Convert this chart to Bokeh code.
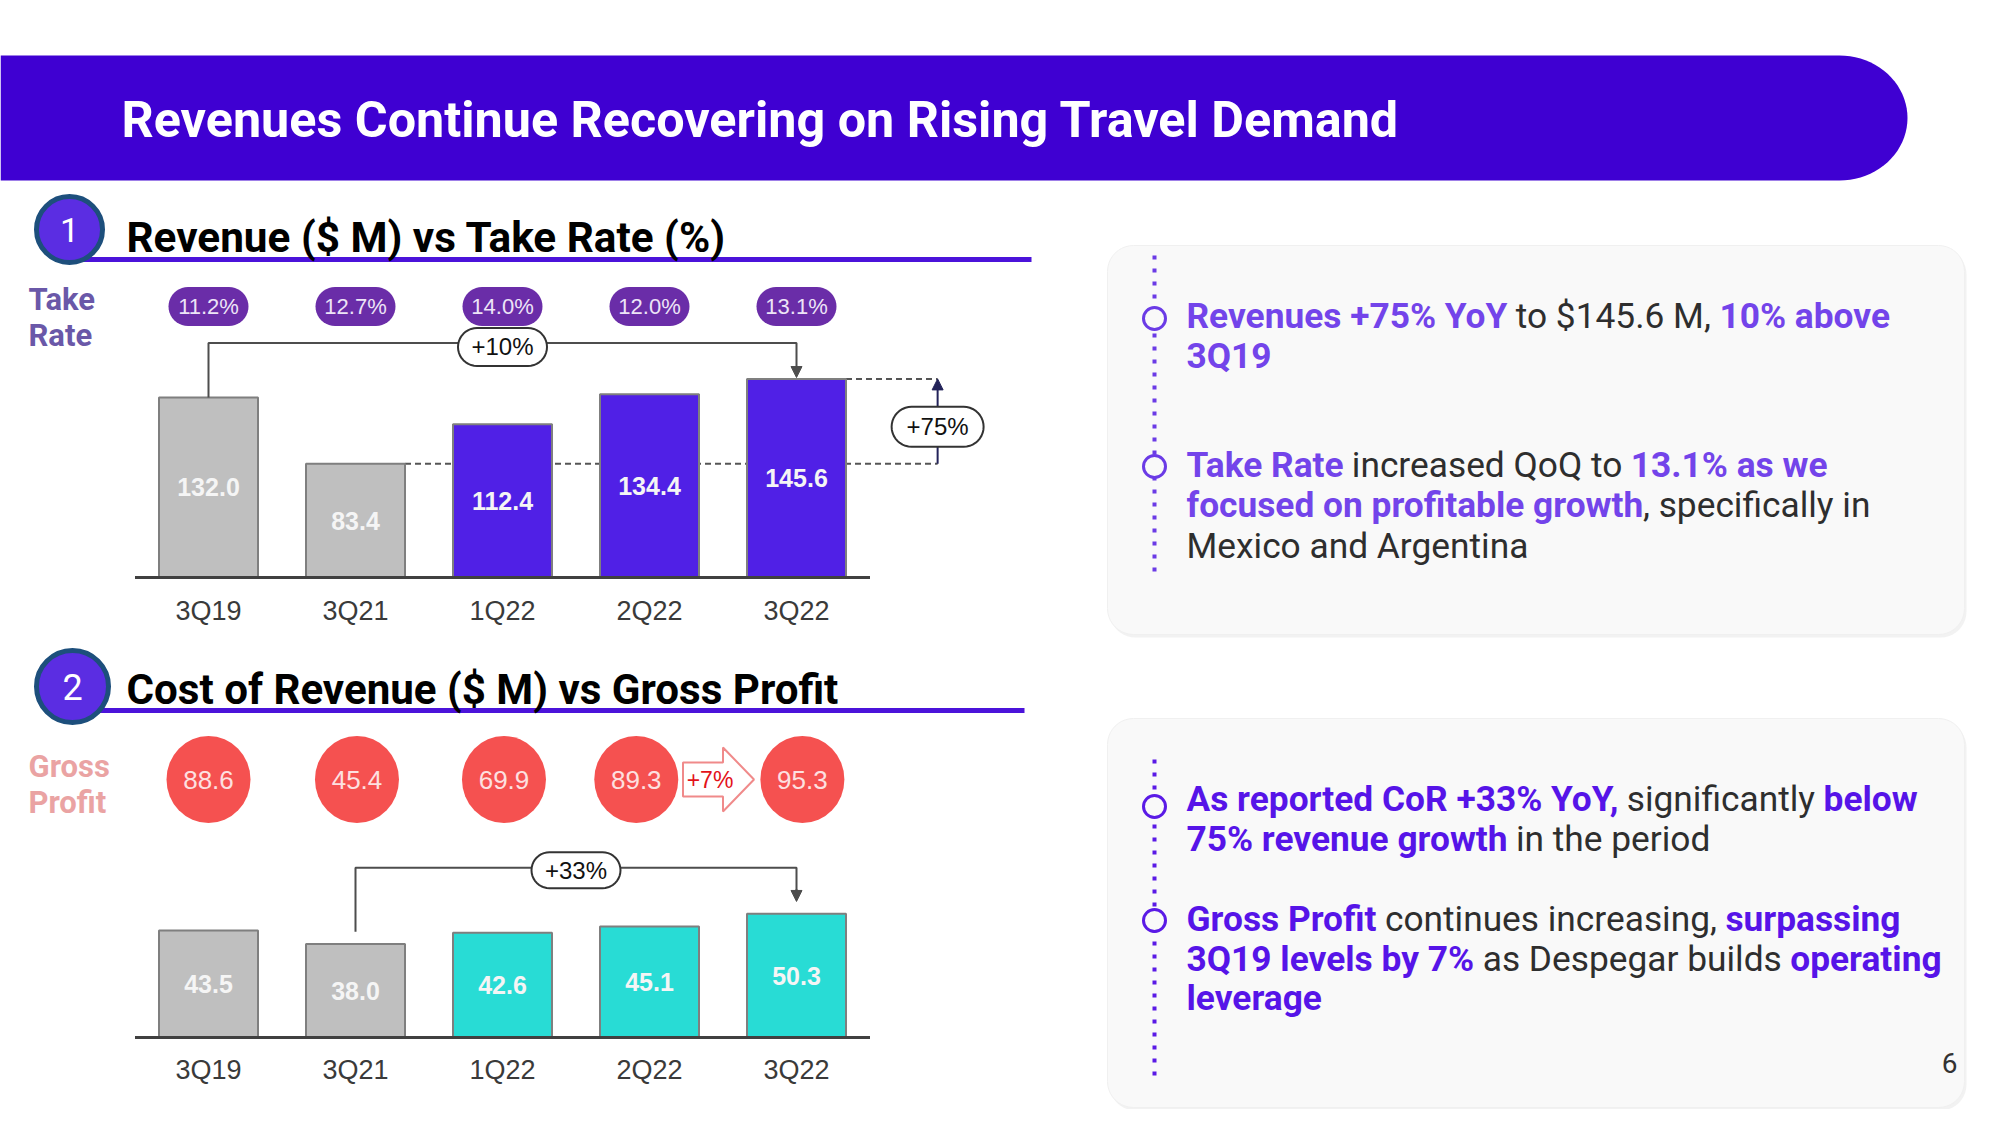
import glob, os, math
from bokeh.plotting import figure
from bokeh.models import Range1d, Arrow, NormalHead
from bokeh.core.properties import value
from bokeh.embed import file_html
from bokeh.resources import INLINE

try:
    from PIL import ImageFont
except Exception:
    ImageFont = None

# ---------------- data ----------------
quarters = ["3Q19", "3Q21", "1Q22", "2Q22", "3Q22"]
revenue = [132.0, 83.4, 112.4, 134.4, 145.6]
take_rate = [11.2, 12.7, 14.0, 12.0, 13.1]
cost_of_revenue = [43.5, 38.0, 42.6, 45.1, 50.3]
gross_profit = [88.6, 45.4, 69.9, 89.3, 95.3]
rev_vs_3q19_label = "+10%"
rev_yoy_label = "+75%"
cor_yoy_label = "+33%"
gp_vs_3q19_label = "+7%"

title_text = "Revenues Continue Recovering on Rising Travel Demand"
heading1 = "Revenue ($ M)  vs Take Rate (%)"
heading2 = "Cost of Revenue ($ M) vs Gross Profit"

# ---------------- fonts / measuring ----------------
FONT_FILES = []
for d in ["/usr/share/fonts", "/usr/local/share/fonts",
          os.path.expanduser("~/.fonts"), os.path.expanduser("~/.local/share/fonts")]:
    FONT_FILES += glob.glob(os.path.join(d, "**", "*.ttf"), recursive=True)
    FONT_FILES += glob.glob(os.path.join(d, "**", "*.otf"), recursive=True)
_LOW = {os.path.basename(f).lower(): f for f in FONT_FILES}


def find_file(names):
    for n in names:
        if n.lower() in _LOW:
            return _LOW[n.lower()]
    return None


FAMILIES = [
    ("Roboto", ["Roboto-Regular.ttf"], ["Roboto-Bold.ttf"]),
    ("Open Sans", ["OpenSans-Regular.ttf"], ["OpenSans-Bold.ttf"]),
    ("Lato", ["Lato-Regular.ttf"], ["Lato-Bold.ttf"]),
    ("Noto Sans", ["NotoSans-Regular.ttf"], ["NotoSans-Bold.ttf"]),
    ("Liberation Sans", ["LiberationSans-Regular.ttf"], ["LiberationSans-Bold.ttf"]),
]
UI_FONT, UI_FILES = "Roboto", (None, None)
for fam, r, b in FAMILIES:
    fr, fb = find_file(r), find_file(b)
    if fr and fb:
        UI_FONT, UI_FILES = fam, (fr, fb)
        break

NUM_FONT = "Liberation Sans"
_cache = {}


def text_w(s, bold, size=100.0):
    path = UI_FILES[1] if bold else UI_FILES[0]
    if ImageFont is not None and path:
        try:
            if path not in _cache:
                _cache[path] = ImageFont.truetype(path, 100)
            return _cache[path].getlength(s) * size / 100.0
        except Exception:
            pass
    return len(s) * size * (0.57 if bold else 0.52)


def fit(s, bold, target):
    return target / max(text_w(" ".join(s.split()), bold, 100), 1) * 100


# ---------------- page geometry ----------------
# the canvas is placed at the page origin; data x == page x, data y == 1125 - page y
W, H = 1984, 1109


def Y(yp):
    return 1125 - yp


p = figure(width=W, height=H, x_range=Range1d(0, W), y_range=Range1d(1125 - H, 1125),
           output_backend="svg", toolbar_location=None, min_border=0,
           x_axis_location=None, y_axis_location=None,
           background_fill_color="white", border_fill_color="white", outline_line_color=None)
p.grid.visible = False

CAT_X0, CAT_STEP = 208, 147
p.extra_x_ranges["cat"] = Range1d(-CAT_X0 / CAT_STEP, (W - CAT_X0) / CAT_STEP)
REV_BASE, REV_K = 577, 1.364
COR_BASE, COR_K = 1037, 2.46


def yr(base_page, k):
    bu = 1125 - base_page
    return Range1d(-(bu - (1125 - H)) / k, (1125 - bu) / k)


p.extra_y_ranges["rev"] = yr(REV_BASE, REV_K)
p.extra_y_ranges["cor"] = yr(COR_BASE, COR_K)

idx = list(range(len(quarters)))
i0, i1, i4 = quarters.index("3Q19"), quarters.index("3Q21"), quarters.index("3Q22")


def rrect(cx, cy, w, h, r, kx=1.0, ky=1.0, n=10):
    xs, ys = [], []
    corners = [(w / 2 - r, h / 2 - r, 0), (-(w / 2 - r), h / 2 - r, 90),
               (-(w / 2 - r), -(h / 2 - r), 180), (w / 2 - r, -(h / 2 - r), 270)]
    for ox, oy, a0 in corners:
        for j in range(n + 1):
            a = math.radians(a0 + 90 * j / n)
            xs.append(cx + (ox + r * math.cos(a)) / kx)
            ys.append(cy + (oy + r * math.sin(a)) / ky)
    return xs, ys


def txt(x, y, s, size, color, font=None, bold=False, align="left", **kw):
    p.text(x=[x], y=[y], text=[s], text_font=value(font or UI_FONT),
           text_font_size=f"{size:.1f}px", text_font_style="bold" if bold else "normal",
           text_color=color, text_align=align, text_baseline="middle", **kw)


# ---------------- right panels ----------------
PANEL_BG = "#F9F9F9"
for top, bot in [(245, 634), (718, 1107)]:
    xs, ys = rrect((1107 + 1964) / 2, Y((top + bot) / 2), 1964 - 1107, bot - top, 26)
    p.patch([x + 2 for x in xs], [y - 3 for y in ys], fill_color="#E6E6E6", fill_alpha=0.5, line_color=None)
    p.patch(xs, ys, fill_color=PANEL_BG, line_color="#F0F0F0", line_width=1)

# ---------------- banner ----------------
bx0, bx1, bt, bb = 0, 1907, 55, 180
rx, ryb, cyb = 68, (bb - bt) / 2, (bt + bb) / 2
bxs, bys = [bx0, bx1 - rx], [Y(bt), Y(bt)]
for j in range(1, 40):
    a = math.pi / 2 - math.pi * j / 40
    bxs.append(bx1 - rx + rx * math.cos(a))
    bys.append(Y(cyb) + ryb * math.sin(a))
bxs += [bx1 - rx, bx0]
bys += [Y(bb), Y(bb)]
p.patch(bxs, bys, fill_color="#3F00D2", line_color=None)
txt(121, Y(119), title_text, fit(title_text, True, 1277), "#FFFFFF", bold=True)

# ---------------- section headings ----------------
UL = "#4B13DA"
p.line([79, 1031], [Y(259), Y(259)], line_color=UL, line_width=5)
p.scatter([69], [Y(229)], size=66, marker="circle", fill_color="#5B2DE2", line_color="#1D4F7C", line_width=5)
txt(69, Y(229), "1", 34, "#FFFFFF", align="center")
txt(126, Y(237), heading1, fit(heading1, True, 598), "#000000", bold=True)

p.line([79, 1024], [Y(710), Y(710)], line_color=UL, line_width=5)
p.scatter([72], [Y(686)], size=72, marker="circle", fill_color="#5B2DE2", line_color="#1D4F7C", line_width=5)
txt(72, Y(686), "2", 36, "#FFFFFF", align="center")
txt(126, Y(689), heading2, fit(heading2, True, 712), "#000000", bold=True)

txt(28, Y(299), "Take", 31, "#6A58A8", bold=True)
txt(28, Y(335), "Rate", 31, "#6A58A8", bold=True)
txt(28, Y(766), "Gross", 31, "#EAA3A3", bold=True)
txt(28, Y(802), "Profit", 31, "#EAA3A3", bold=True)

# ---------------- chart 1: revenue ----------------
BAR_W = 99 / CAT_STEP
pill_xs, pill_ys = [], []
for i in idx:
    xs, ys = rrect(i, Y(306), 80, 39, 19.5, kx=CAT_STEP)
    pill_xs.append(xs)
    pill_ys.append(ys)
p.patches(pill_xs, pill_ys, fill_color="#6A2DA8", line_color=None, x_range_name="cat")
p.text(x=idx, y=[Y(306)] * len(idx), text=[f"{v:.1f}%" for v in take_rate], x_range_name="cat",
       text_font=value(NUM_FONT), text_font_size="22px", text_color="#EDE4F7",
       text_align="center", text_baseline="middle")

ARROW_X = i4 + 0.96
DASH = dict(line_dash="6 4", line_color="#555555", line_width=2, x_range_name="cat", y_range_name="rev")
p.line([i1 + BAR_W / 2, ARROW_X], [revenue[i1], revenue[i1]], **DASH)
p.line([i4 + BAR_W / 2, ARROW_X], [revenue[i4], revenue[i4]], **DASH)

rev_colors = ["#BFBFBF", "#BFBFBF", "#5020E6", "#5020E6", "#5020E6"]
p.vbar(x=idx, top=revenue, bottom=0, width=BAR_W, fill_color=rev_colors, line_color="#7F7F7F",
       line_width=2, x_range_name="cat", y_range_name="rev")
p.text(x=idx, y=[v / 2 for v in revenue], text=[f"{v:.1f}" for v in revenue],
       x_range_name="cat", y_range_name="rev", text_font=value(NUM_FONT), text_font_size="25px",
       text_font_style="bold", text_color="#F5F5F5", text_align="center", text_baseline="middle")
p.line([-0.5, len(idx) - 0.5], [0, 0], line_color="#404040", line_width=3,
       x_range_name="cat", y_range_name="rev")
p.text(x=idx, y=[Y(610)] * len(idx), text=quarters, x_range_name="cat",
       text_font=value(NUM_FONT), text_font_size="27px", text_color="#3A3A3A",
       text_align="center", text_baseline="middle")

# +10% bracket
LEVEL1 = 172
BR = "#4D4D4D"
p.line([i0, i0, i4, i4], [revenue[i0], LEVEL1, LEVEL1, revenue[i4] + 8], line_color=BR, line_width=2,
       x_range_name="cat", y_range_name="rev")
p.add_layout(Arrow(x_start=i4, y_start=revenue[i4] + 9, x_end=i4, y_end=revenue[i4] + 1,
                   end=NormalHead(size=11, fill_color=BR, line_color=BR), line_color=BR, line_width=2,
                   x_range_name="cat", y_range_name="rev"))
bxs1, bys1 = rrect((i0 + i4) / 2, LEVEL1 - 3, 89, 38, 19, kx=CAT_STEP, ky=REV_K)
p.patch(bxs1, bys1, fill_color="#FFFFFF", line_color="#333333", line_width=2,
        x_range_name="cat", y_range_name="rev")
p.text(x=[(i0 + i4) / 2], y=[LEVEL1 - 3], text=[rev_vs_3q19_label], x_range_name="cat", y_range_name="rev",
       text_font=value(NUM_FONT), text_font_size="24px", text_color="#111111",
       text_align="center", text_baseline="middle")

# +75% arrow
NAVY = "#23235A"
p.line([ARROW_X, ARROW_X], [revenue[i1], revenue[i4] - 6], line_color=NAVY, line_width=2,
       x_range_name="cat", y_range_name="rev")
p.add_layout(Arrow(x_start=ARROW_X, y_start=revenue[i4] - 8, x_end=ARROW_X, y_end=revenue[i4],
                   end=NormalHead(size=11, fill_color=NAVY, line_color=NAVY), line_color=NAVY, line_width=2,
                   x_range_name="cat", y_range_name="rev"))
mid75 = (revenue[i1] + revenue[i4]) / 2 - 4
bxs2, bys2 = rrect(ARROW_X, mid75, 92, 40, 20, kx=CAT_STEP, ky=REV_K)
p.patch(bxs2, bys2, fill_color="#FFFFFF", line_color="#333333", line_width=2,
        x_range_name="cat", y_range_name="rev")
p.text(x=[ARROW_X], y=[mid75], text=[rev_yoy_label], x_range_name="cat", y_range_name="rev",
       text_font=value(NUM_FONT), text_font_size="24px", text_color="#111111",
       text_align="center", text_baseline="middle")

# ---------------- chart 2: cost of revenue ----------------
gp_offsets = [0.0, 0.01, 0.01, -0.09, 0.04]
gp_x = [i + o for i, o in zip(idx, gp_offsets)]
p.ellipse(x=gp_x, y=[Y(779)] * len(idx), width=84 / CAT_STEP, height=87, fill_color="#F55150",
          line_color=None, x_range_name="cat")
p.text(x=gp_x, y=[Y(779)] * len(idx), text=[f"{v:.1f}" for v in gross_profit], x_range_name="cat",
       text_font=value(NUM_FONT), text_font_size="26px", text_color="#FDE0E0",
       text_align="center", text_baseline="middle")

# +7% block arrow between 2Q22 and 3Q22
ac = (3 + i4) / 2
ax_px = [-40, 0, 0, 31, 0, 0, -40]
ay_px = [17, 17, 32, 0, -32, -17, -17]
p.patch([ac + a / CAT_STEP for a in ax_px], [Y(779) + b for b in ay_px], fill_color="#FFFFFF",
        line_color="#F08A8A", line_width=2, x_range_name="cat")
p.text(x=[ac - 13 / CAT_STEP], y=[Y(779)], text=[gp_vs_3q19_label], x_range_name="cat",
       text_font=value(NUM_FONT), text_font_size="23px", text_color="#E3121A",
       text_align="center", text_baseline="middle")

cor_colors = ["#BFBFBF", "#BFBFBF", "#28DCD5", "#28DCD5", "#28DCD5"]
p.vbar(x=idx, top=cost_of_revenue, bottom=0, width=BAR_W, fill_color=cor_colors, line_color="#7F7F7F",
       line_width=2, x_range_name="cat", y_range_name="cor")
p.text(x=idx, y=[v / 2 for v in cost_of_revenue], text=[f"{v:.1f}" for v in cost_of_revenue],
       x_range_name="cat", y_range_name="cor", text_font=value(NUM_FONT), text_font_size="25px",
       text_font_style="bold", text_color="#F5F5F5", text_align="center", text_baseline="middle")
p.line([-0.5, len(idx) - 0.5], [0, 0], line_color="#404040", line_width=3,
       x_range_name="cat", y_range_name="cor")
p.text(x=idx, y=[Y(1069)] * len(idx), text=quarters, x_range_name="cat",
       text_font=value(NUM_FONT), text_font_size="27px", text_color="#3A3A3A",
       text_align="center", text_baseline="middle")

# +33% bracket
LEVEL2 = 69
p.line([i1, i1, i4, i4], [cost_of_revenue[i1] + 5, LEVEL2, LEVEL2, cost_of_revenue[i4] + 9],
       line_color=BR, line_width=2, x_range_name="cat", y_range_name="cor")
p.add_layout(Arrow(x_start=i4, y_start=cost_of_revenue[i4] + 10, x_end=i4, y_end=cost_of_revenue[i4] + 5,
                   end=NormalHead(size=11, fill_color=BR, line_color=BR), line_color=BR, line_width=2,
                   x_range_name="cat", y_range_name="cor"))
bxs3, bys3 = rrect((i1 + i4) / 2, LEVEL2 - 1, 89, 36, 18, kx=CAT_STEP, ky=COR_K)
p.patch(bxs3, bys3, fill_color="#FFFFFF", line_color="#333333", line_width=2,
        x_range_name="cat", y_range_name="cor")
p.text(x=[(i1 + i4) / 2], y=[LEVEL2 - 1], text=[cor_yoy_label], x_range_name="cat", y_range_name="cor",
       text_font=value(NUM_FONT), text_font_size="24px", text_color="#111111",
       text_align="center", text_baseline="middle")

# ---------------- bullet text ----------------
P1, P2, DK = "#7344EA", "#5614E8", "#2E2E2E"
B, R = True, False
panel1_lines = [
    (315, [("Revenues +75% YoY", B, P1), (" to $145.6 M, ", R, DK), ("10% above", B, P1)]),
    (355, [("3Q19", B, P1)]),
    (464, [("Take Rate", B, P1), (" increased QoQ to ", R, DK), ("13.1% as we", B, P1)]),
    (504, [("focused on profitable growth", B, P1), (", specifically in", R, DK)]),
    (545, [("Mexico and Argentina", R, DK)]),
]
panel2_lines = [
    (798, [("As reported CoR +33% YoY,", B, P2), (" significantly ", R, DK), ("below", B, P2)]),
    (838, [("75% revenue growth", B, P2), (" in the period", R, DK)]),
    (918, [("Gross Profit", B, P2), (" continues increasing, ", R, DK), ("surpassing", B, P2)]),
    (958, [("3Q19 levels by 7%", B, P2), (" as Despegar builds ", R, DK), ("operating", B, P2)]),
    (997, [("leverage", B, P2)]),
]


def line_w(runs, size):
    return sum(text_w(s, b, size) for s, b, c in runs)


targets = [(panel1_lines[0][1], 694), (panel2_lines[0][1], 740), (panel2_lines[3][1], 756)]
BSIZE = sum(t / max(line_w(r, 100), 1) * 100 for r, t in targets) / len(targets)


def rich_line(x, y, runs, size):
    for s, bold, color in runs:
        lead = len(s) - len(s.lstrip(" "))
        core = s.strip(" ")
        if core:
            txt(x + text_w(" " * lead, bold, size), y, core, size, color, bold=bold)
        x += text_w(s, bold, size)


for yy, runs in panel1_lines + panel2_lines:
    rich_line(1186, Y(yy), runs, BSIZE)

# dotted timelines + bullet rings
p.line([1154, 1154], [Y(255), Y(578)], line_color="#6B3BE6", line_width=4, line_dash="4 9")
p.line([1154, 1154], [Y(759), Y(1078)], line_color="#5A1AE6", line_width=4, line_dash="4 9")
p.scatter([1154, 1154], [Y(318), Y(466)], size=22, marker="circle", fill_color=PANEL_BG,
          line_color="#6B3BE6", line_width=3)
p.scatter([1154, 1154], [Y(806), Y(920)], size=22, marker="circle", fill_color=PANEL_BG,
          line_color="#5A1AE6", line_width=3)

txt(1949, Y(1062), "6", 28, "#333333", align="center")

open("out.html", "w").write(file_html(p, INLINE))
